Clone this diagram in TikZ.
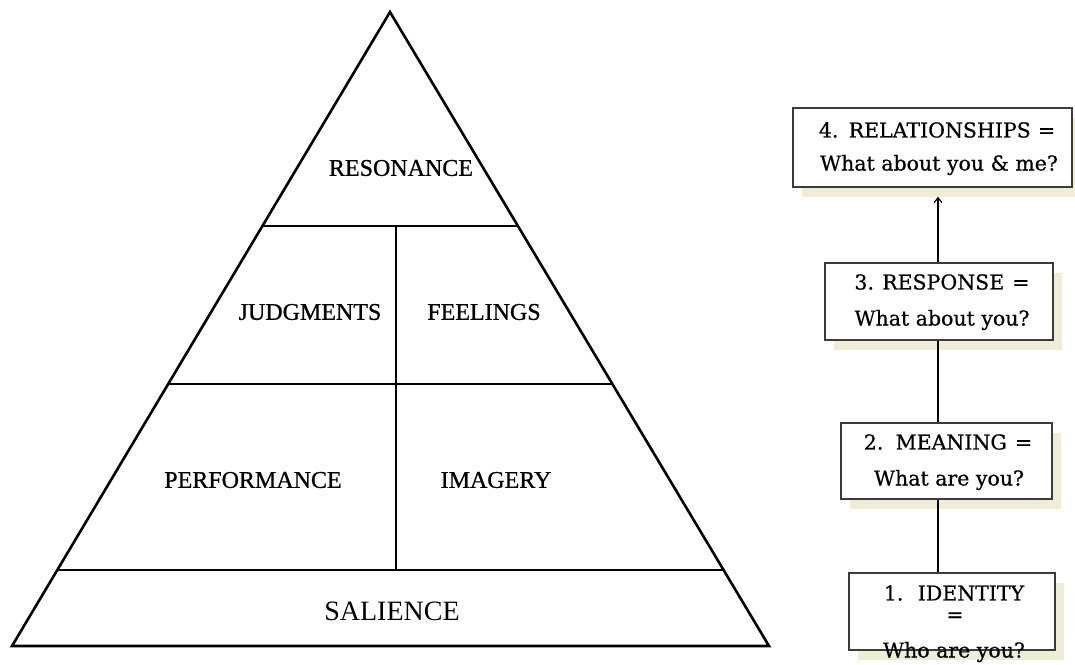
\documentclass[tikz,border=0pt]{standalone}
\usepackage{fontspec}
\setmainfont{Liberation Serif}
\newfontfamily\tierfont[FakeBold=0.8]{Liberation Serif}
\newfontfamily\ladderfont[FakeBold=0.6]{DejaVu Serif}
\usetikzlibrary{calc,shadows,arrows.meta}
\definecolor{shadowtan}{RGB}{239,236,216}
\definecolor{boxline}{RGB}{60,60,60}
\begin{document}
\begin{tikzpicture}[x=1pt,y=-1pt,
  tier/.style={line width=2.6pt,line join=miter,line cap=round},
  divider/.style={line width=2.3pt},
  tierlabel/.style={font=\tierfont\fontsize{24}{24}\selectfont,inner sep=0pt},
  baselabel/.style={font=\fontsize{28}{28}\selectfont,inner sep=0pt},
  boxtext/.style={font=\ladderfont\fontsize{20.5}{20.5}\selectfont,inner sep=0pt},
  stepbox/.style={draw=boxline,line width=1.5pt,fill=white,inner sep=0pt,
    drop shadow={shadow xshift=9pt,shadow yshift=-10pt,fill=shadowtan,opacity=1}},
  link/.style={line width=2pt}
]
\useasboundingbox (0,0) rectangle (1075,664);

% ---------- brand pyramid ----------
\coordinate (apex) at (390,12);
\coordinate (bl) at (12,646);
\coordinate (br) at (769,646);
\draw[tier] (apex) -- (bl) -- (br) -- cycle;

% tier boundaries as fractions of the height
\coordinate (l1) at ($(apex)!{214/634}!(bl)$);
\coordinate (r1) at ($(apex)!{214/634}!(br)$);
\coordinate (l2) at ($(apex)!{372/634}!(bl)$);
\coordinate (r2) at ($(apex)!{372/634}!(br)$);
\coordinate (l3) at ($(apex)!{558/634}!(bl)$);
\coordinate (r3) at ($(apex)!{558/634}!(br)$);
\draw[divider] (l1) -- (r1);
\draw[divider] (l2) -- (r2);
\draw[divider] (l3) -- (r3);
\coordinate (vtop) at (396,226);
\coordinate (vbot) at (396,570);
\draw[divider] (vtop) -- (vbot);

\node[tierlabel] (resonance) at (401,168) {RESONANCE};
\node[tierlabel] (judgments) at (310,312) {JUDGMENTS};
\node[tierlabel] (feelings) at (484,312) {FEELINGS};
\node[tierlabel] (performance) at (253,480) {PERFORMANCE};
\node[tierlabel] (imagery) at (496,480) {IMAGERY};
\node[baselabel] (salience) at (392,611) {SALIENCE};

% ---------- branding ladder ----------
\node[stepbox,minimum width=279pt,minimum height=79pt] (b4) at (932.5,147.5) {};
\node[stepbox,minimum width=228pt,minimum height=77pt] (b3) at (939,301.5) {};
\node[stepbox,minimum width=211pt,minimum height=76pt] (b2) at (946.5,461) {};
\node[stepbox,minimum width=206pt,minimum height=77pt] (b1) at (952,611.5) {};

\node[boxtext] (t4a) at (937,130) {4.\hspace{0.5em}RELATIONSHIPS\hspace{0.35em}=};
\node[boxtext] (t4b) at (939,165) {What about you \& me?};
\node[boxtext] (t3a) at (942,282) {3.\hspace{0.4em}RESPONSE\hspace{0.4em}=};
\node[boxtext] (t3b) at (942,320) {What about you?};
\node[boxtext] (t2a) at (948,442) {2.\hspace{0.6em}MEANING\hspace{0.4em}=};
\node[boxtext] (t2b) at (949,480) {What are you?};
\node[boxtext] (t1a) at (954,593) {1.\hspace{0.7em}IDENTITY};
\node[boxtext] (t1b) at (955,617) {=};
\node[boxtext] (t1c) at (954,652) {Who are you?};

\coordinate (spine) at (938,0);
\draw[link] (b1.north -| spine) -- (b2.south -| spine);
\draw[link] (b2.north -| spine) -- (b3.south -| spine);
\draw[link,-{Straight Barb[length=5pt,width=8pt,line width=1.2pt]},shorten >=9pt]
  (b3.north -| spine) -- (b4.south -| spine);
\end{tikzpicture}
\end{document}
